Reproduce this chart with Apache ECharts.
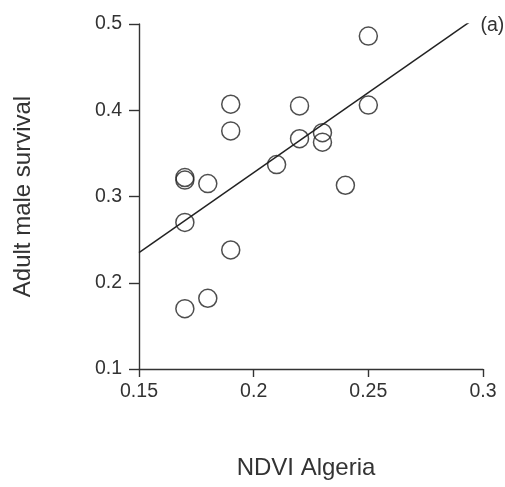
<!DOCTYPE html>
<html><head><meta charset="utf-8">
<script src="https://cdn.jsdelivr.net/npm/echarts@6/dist/echarts.min.js"></script>
<style>html,body{margin:0;padding:0;background:#fff}#c{width:505px;height:487px}</style>
</head><body><div id="c"></div>
<script>
var ndvi = [0.17, 0.17, 0.17, 0.17, 0.18, 0.18, 0.19, 0.19, 0.19, 0.21, 0.22, 0.22, 0.23, 0.23, 0.24, 0.25, 0.25];
var survival = [0.322, 0.319, 0.270, 0.170, 0.315, 0.182, 0.407, 0.376, 0.238, 0.337, 0.405, 0.367, 0.374, 0.363, 0.313, 0.486, 0.406];
var fitX = [0.15, 0.2945];
var fitY = [0.235, 0.503];
var xTicks = ['0.15', '0.2', '0.25', '0.3'];
var yTicks = ['0.1', '0.2', '0.3', '0.4', '0.5'];
var panelLabel = '(a)';

var pts = ndvi.map(function (x, i) { return [x, survival[i]]; });
var line = fitX.map(function (x, i) { return [x, fitY[i]]; });
var font = 'Liberation Sans, Arial, sans-serif';
var chart = echarts.init(document.getElementById('c'), null, {renderer: 'canvas'});
chart.setOption({
  animation: false,
  grid: {left: 139, right: 22, top: 24, bottom: 118},
  xAxis: {
    type: 'value', min: 0.15, max: 0.3, interval: 0.05,
    name: 'NDVI Algeria', nameLocation: 'middle', nameGap: 87,
    nameTextStyle: {fontFamily: font, fontSize: 24, color: '#333', padding: [0, 10, 0, 0]},
    axisLine: {onZero: false, lineStyle: {color: '#333', width: 1.4}},
    axisTick: {length: 8, lineStyle: {color: '#333', width: 1.4}},
    axisLabel: {fontFamily: font, fontSize: 19.5, color: '#333', margin: 13,
      formatter: function (v) { var s = +v.toFixed(2); return xTicks.indexOf(String(s)) >= 0 ? String(s) : ''; }},
    splitLine: {show: false}
  },
  yAxis: {
    type: 'value', min: 0.1, max: 0.5, interval: 0.1,
    name: 'Adult male survival', nameLocation: 'middle', nameGap: 104, nameRotate: 90,
    nameTextStyle: {fontFamily: font, fontSize: 24, color: '#333'},
    axisLine: {onZero: false, lineStyle: {color: '#333', width: 1.4}},
    axisTick: {length: 10, lineStyle: {color: '#333', width: 1.4}},
    axisLabel: {fontFamily: font, fontSize: 19.5, color: '#333', margin: 17,
      formatter: function (v) { var s = +v.toFixed(1); return yTicks.indexOf(String(s)) >= 0 ? String(s) : ''; }},
    splitLine: {show: false}
  },
  series: [
    {
      type: 'line', data: line, symbol: 'none', silent: true,
      lineStyle: {color: '#222', width: 1.5},
      endLabel: {show: true, formatter: panelLabel, fontFamily: font, fontSize: 19.5, color: '#333', distance: 10, offset: [0, 4]}
    },
    {
      type: 'scatter', data: pts, symbol: 'circle', symbolSize: 18,
      itemStyle: {color: 'rgba(255,255,255,0)', borderColor: '#222', borderWidth: 1.5}
    }
  ]
});
</script></body></html>
